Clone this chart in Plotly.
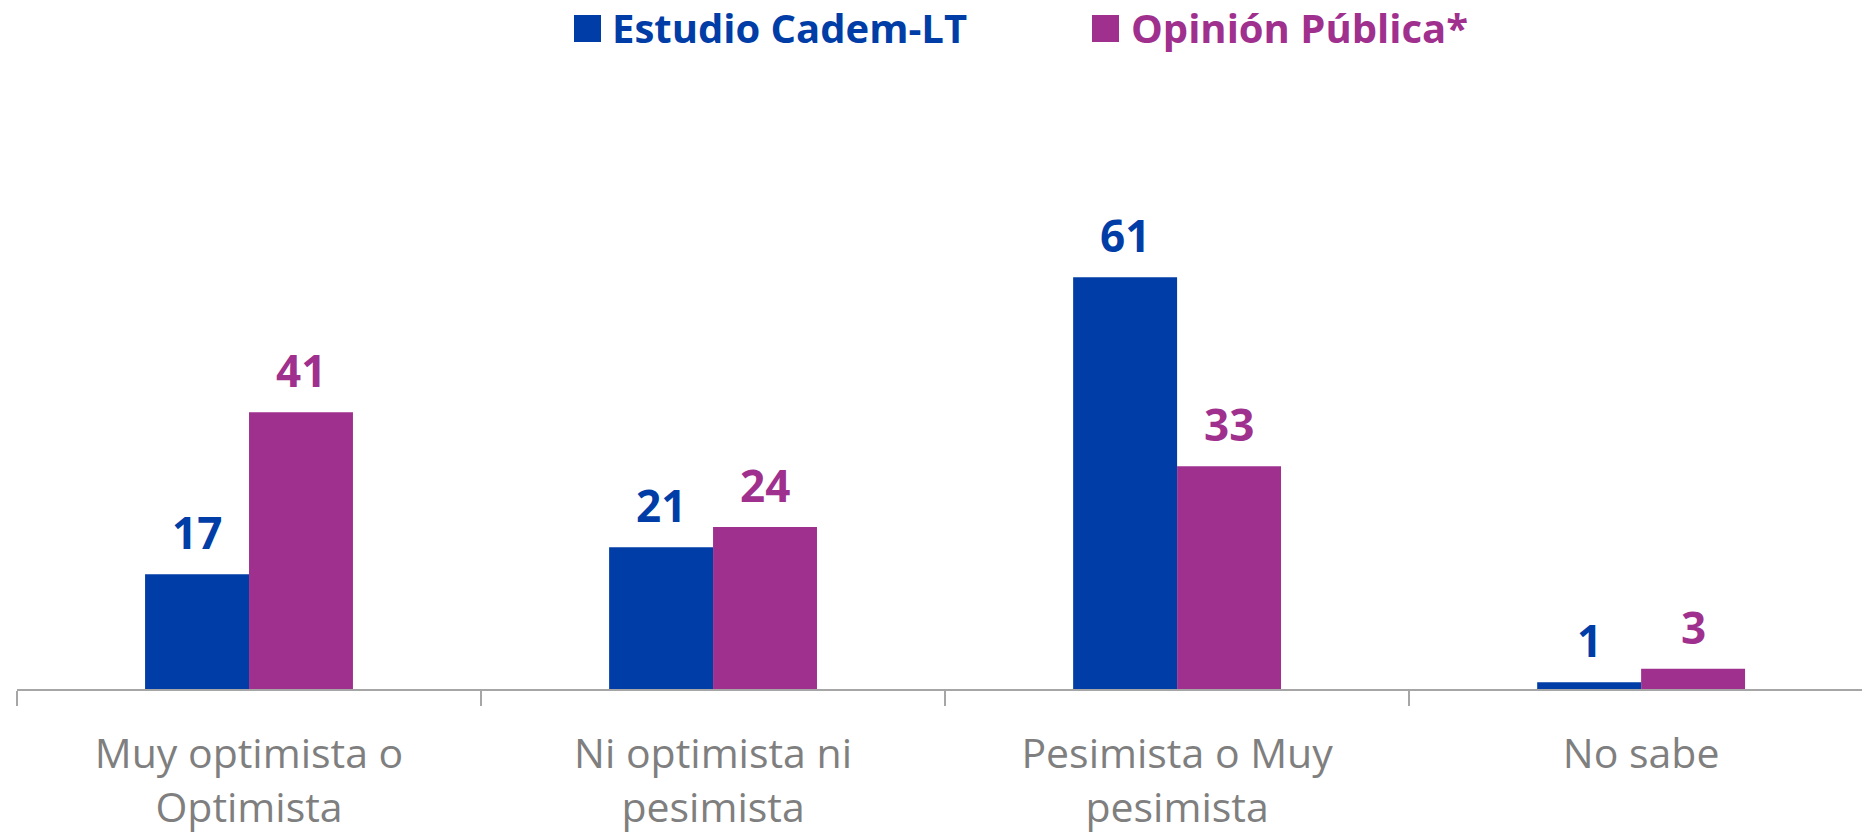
import plotly.graph_objects as go

categories = ["Muy optimista o<br>Optimista", "Ni optimista ni<br>pesimista",
              "Pesimista o Muy<br>pesimista", "No sabe"]
cadem = [17, 21, 61, 1]
opinion = [41, 24, 33, 3]
series_names = ["Estudio Cadem-LT", "Opinión Pública*"]
colors = ["#003DA6", "#A0308E"]

W, H = 1862, 835
ML, MR, MT, MB = 17, 0, 149, 146
PW, PH = W - ML - MR, H - MT - MB


def px_to_paper(px, py):
    return (px - ML) / PW, 1 - (py - MT) / PH


fig = go.Figure()
for name, vals, col in zip(series_names, [cadem, opinion], colors):
    fig.add_trace(go.Bar(
        x=categories, y=vals, name=name, showlegend=False,
        marker=dict(color=col, line=dict(width=0)),
    ))

annots = []
# data labels
for vals, col, shift in zip([cadem, opinion], colors, [-52, 52]):
    for c, v in zip(categories, vals):
        annots.append(dict(x=c, y=v, xref="x", yref="y", text=f"<b>{v}</b>",
                           showarrow=False, xshift=shift, yanchor="bottom", yshift=10,
                           font=dict(family="Open Sans", size=44, color=col)))

# legend (swatch + label) at the top
legend_pos = [(574, 610), (1092, 1129)]
for name, col, (sx, tx) in zip(series_names, colors, legend_pos):
    x0, y0 = px_to_paper(sx, 28.5)
    annots.append(dict(x=x0, y=y0, xref="paper", yref="paper", text=" ",
                       showarrow=False, xanchor="left", yanchor="middle",
                       width=27, height=27, bgcolor=col, borderpad=0, borderwidth=0))
    x1, y1 = px_to_paper(tx, 28)
    annots.append(dict(x=x1, y=y1, xref="paper", yref="paper", text=f"<b>{name}</b>",
                       showarrow=False, xanchor="left", yanchor="middle",
                       font=dict(family="Open Sans", size=40, color=col)))

fig.update_layout(
    width=W, height=H,
    margin=dict(l=ML, r=MR, t=MT, b=MB, autoexpand=False),
    plot_bgcolor="white", paper_bgcolor="white",
    barmode="group", bargap=0.552, bargroupgap=0,
    font=dict(family="Open Sans"),
    showlegend=False,
    annotations=annots,
)
fig.update_xaxes(type="category", range=[-0.5, 3.476], showline=True, linecolor="#A6A6A6",
                 linewidth=2, ticks="outside", tickson="boundaries", ticklen=15,
                 tickwidth=2, tickcolor="#A6A6A6", showgrid=False, ticklabelstandoff=28,
                 tickfont=dict(family="Open Sans", size=41, color="#7F7F7F"))
fig.update_yaxes(range=[0, 80], visible=False, showgrid=False)
fig.write_html("out.html", config={"displayModeBar": False},
               post_script="document.body.style.margin='0';")
